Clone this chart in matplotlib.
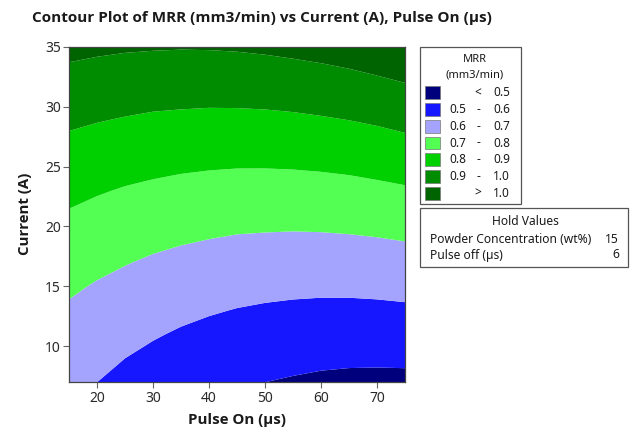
import matplotlib
matplotlib.use("Agg")
import matplotlib.pyplot as plt
from matplotlib.patches import Rectangle

# Grid of predicted MRR (mm3/min) over Pulse On (µs) x Current (A)
pulse_on = [15, 20, 25, 30, 35, 40, 45, 50, 55, 60, 65, 70, 75]
current = [7, 9, 11, 13, 15, 17, 19, 21, 23, 25, 27, 29, 31, 33, 35]
mrr = [
    [0.624, 0.600, 0.578, 0.558, 0.540, 0.525, 0.511, 0.500, 0.492, 0.485, 0.481, 0.479, 0.480],
    [0.645, 0.621, 0.600, 0.581, 0.565, 0.551, 0.539, 0.529, 0.522, 0.516, 0.513, 0.513, 0.514],
    [0.666, 0.644, 0.624, 0.607, 0.591, 0.578, 0.567, 0.559, 0.552, 0.548, 0.547, 0.547, 0.550],
    [0.689, 0.668, 0.649, 0.633, 0.619, 0.607, 0.597, 0.590, 0.585, 0.582, 0.581, 0.583, 0.587],
    [0.713, 0.693, 0.676, 0.661, 0.648, 0.637, 0.628, 0.622, 0.618, 0.616, 0.617, 0.620, 0.625],
    [0.738, 0.720, 0.704, 0.689, 0.678, 0.668, 0.661, 0.656, 0.653, 0.652, 0.654, 0.658, 0.664],
    [0.765, 0.748, 0.733, 0.720, 0.709, 0.701, 0.694, 0.691, 0.689, 0.690, 0.693, 0.698, 0.705],
    [0.793, 0.777, 0.763, 0.751, 0.742, 0.734, 0.729, 0.727, 0.726, 0.728, 0.732, 0.738, 0.747],
    [0.822, 0.807, 0.794, 0.784, 0.775, 0.769, 0.766, 0.764, 0.765, 0.768, 0.773, 0.781, 0.790],
    [0.853, 0.839, 0.827, 0.818, 0.811, 0.806, 0.803, 0.803, 0.805, 0.809, 0.815, 0.824, 0.835],
    [0.884, 0.872, 0.861, 0.853, 0.847, 0.843, 0.842, 0.843, 0.846, 0.851, 0.859, 0.868, 0.881],
    [0.917, 0.906, 0.897, 0.889, 0.885, 0.882, 0.882, 0.884, 0.888, 0.895, 0.903, 0.914, 0.928],
    [0.952, 0.941, 0.933, 0.927, 0.924, 0.922, 0.923, 0.926, 0.932, 0.939, 0.949, 0.961, 0.976],
    [0.987, 0.978, 0.971, 0.966, 0.964, 0.964, 0.966, 0.970, 0.977, 0.985, 0.996, 1.010, 1.025],
    [1.024, 1.016, 1.010, 1.007, 1.005, 1.006, 1.009, 1.015, 1.023, 1.033, 1.045, 1.059, 1.076],
]

# Contour band edges and fills
breaks = [0.5, 0.6, 0.7, 0.8, 0.9, 1.0]
band_colors = ["#00007C", "#1616FF", "#A4A4FF", "#52FF52", "#00D000", "#008C00", "#006400"]

x_ticks = [20, 30, 40, 50, 60, 70]
y_ticks = [10, 15, 20, 25, 30, 35]

hold_names = ["Powder Concentration (wt%)", "Pulse off (µs)"]
hold_values = [15, 6]

plt.rcParams["font.family"] = ["Noto Sans", "DejaVu Sans"]
BOLD = ["Open Sans", "DejaVu Sans"]

W, H = 632, 430
fig = plt.figure(figsize=(W / 100, H / 100), dpi=100)


def fx(px):
    return px / W


def fy(py):
    return 1 - py / H


# plot panel
left, right, top, bottom = 69, 405, 46.7, 382.3
ax = fig.add_axes([fx(left), fy(bottom), fx(right - left), (bottom - top) / H])
levels = [-10.0] + breaks + [10.0]
ax.contourf(pulse_on, current, mrr, levels=levels, colors=band_colors, antialiased=True)
ax.set_xlim(min(pulse_on), max(pulse_on))
ax.set_ylim(min(current), max(current))
ax.set_xticks(x_ticks)
ax.set_yticks(y_ticks)
ax.tick_params(direction="out", length=4, width=0.8, color="#666666",
               labelsize=10, labelcolor="#2a2a2a", pad=2)
for s in ax.spines.values():
    s.set_color("#444444")
    s.set_linewidth(0.9)

txt = "#1a1a1a"
fig.text(fx(262), fy(18), "Contour Plot of MRR (mm3/min) vs Current (A), Pulse On (µs)",
         ha="center", va="center", fontsize=11, fontweight="bold", color=txt, family=BOLD)
fig.text(fx(237), fy(420), "Pulse On (µs)", ha="center", va="center",
         fontsize=10.8, fontweight="bold", color=txt, family=BOLD)
fig.text(fx(25), fy(214), "Current (A)", ha="center", va="center", rotation=90,
         fontsize=10.8, fontweight="bold", color=txt, family=BOLD)

# colour key
box_kw = dict(transform=fig.transFigure, fill=False, edgecolor="#555555", linewidth=0.9)
fig.patches.append(Rectangle((fx(420), fy(204)), fx(100.7), (204 - 46.7) / H, **box_kw))
fig.text(fx(475), fy(59), "MRR", ha="center", va="center", fontsize=8, color=txt)
fig.text(fx(475), fy(75), "(mm3/min)", ha="center", va="center", fontsize=8, color=txt)

labels_lo = [""] + [f"{b:.1f}" for b in breaks[:-1]] + [""]
labels_mid = ["<"] + ["-"] * (len(breaks) - 1) + [">"]
labels_hi = [f"{breaks[0]:.1f}"] + [f"{b:.1f}" for b in breaks[1:]] + [f"{breaks[-1]:.1f}"]
row0, step = 92.7, 16.77
for i, col in enumerate(band_colors):
    cy = row0 + i * step
    fig.patches.append(Rectangle((fx(424.5), fy(cy + 6.3)), fx(15.5), 12.6 / H,
                                 transform=fig.transFigure, facecolor=col,
                                 edgecolor="#777777", linewidth=0.5))
    fig.text(fx(449), fy(cy), labels_lo[i], ha="left", va="center", fontsize=8.5, color=txt)
    fig.text(fx(478), fy(cy), labels_mid[i], ha="center", va="center", fontsize=8.5, color=txt)
    fig.text(fx(510), fy(cy), labels_hi[i], ha="right", va="center", fontsize=8.5, color=txt)

# hold values
fig.patches.append(Rectangle((fx(420), fy(267)), fx(208), (267 - 208) / H, **box_kw))
fig.text(fx(525), fy(221.7), "Hold Values", ha="center", va="center", fontsize=8.7, color=txt)
for i, (name, val) in enumerate(zip(hold_names, hold_values)):
    cy = 239 + i * 16
    fig.text(fx(430.5), fy(cy), name, ha="left", va="center", fontsize=8.7, color=txt)
    fig.text(fx(619), fy(cy), str(val), ha="right", va="center", fontsize=8.7, color=txt)

fig.savefig("out.png", dpi=100)
